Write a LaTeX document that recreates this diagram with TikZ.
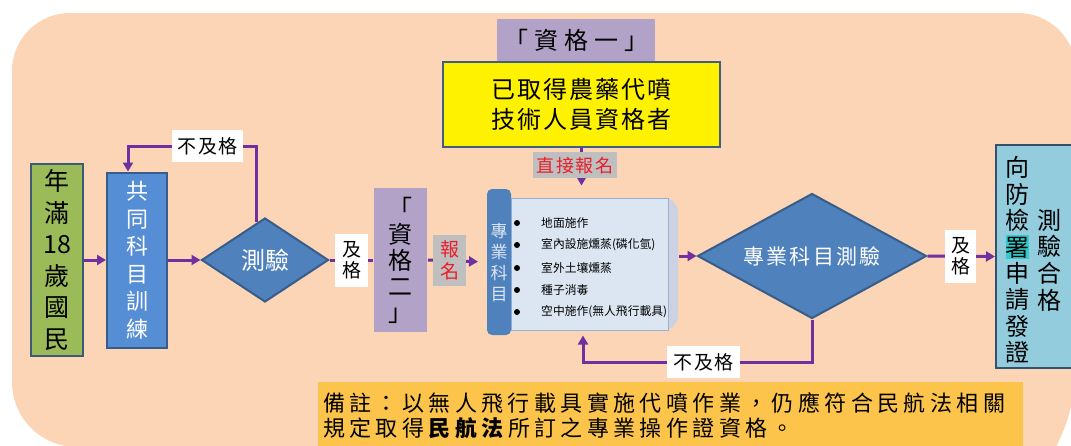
\documentclass[tikz,border=0pt]{standalone}
\usepackage{fontspec}
\setmainfont{Noto Sans CJK TC}
\newfontfamily\lsS[LetterSpace=8]{Noto Sans CJK TC}
\newfontfamily\lsM[LetterSpace=10]{Noto Sans CJK TC}
\newfontfamily\lsL[LetterSpace=20]{Noto Sans CJK TC}
\newfontfamily\lsX[LetterSpace=25]{Noto Sans CJK TC}
\usetikzlibrary{shapes.geometric,arrows.meta,calc}
\definecolor{peach}{RGB}{251,213,181}
\definecolor{apurple}{RGB}{112,48,160}
\definecolor{diablue}{RGB}{79,129,189}
\definecolor{diaedge}{RGB}{56,93,138}
\definecolor{boxblue}{RGB}{85,142,213}
\definecolor{grn}{RGB}{155,187,89}
\definecolor{edgeA}{RGB}{60,90,120}
\definecolor{lavender}{RGB}{179,162,199}
\definecolor{paleblue}{RGB}{220,230,242}
\definecolor{listedge}{RGB}{149,179,215}
\definecolor{shadowc}{RGB}{204,210,226}
\definecolor{cert}{RGB}{147,205,221}
\definecolor{edgeB}{RGB}{52,82,112}
\definecolor{edgeY}{RGB}{65,95,125}
\definecolor{noteor}{RGB}{253,196,76}
\definecolor{lgray}{RGB}{191,191,191}
\definecolor{lred}{RGB}{235,30,40}
\definecolor{hl}{RGB}{51,204,204}
\tikzset{
  flow/.style={draw=apurple, line width=3pt, -{Triangle[length=9pt,width=10pt]}},
  plain/.style={draw=apurple, line width=3pt},
  box/.style={rectangle, inner sep=0pt, line width=2pt, align=center},
  lbl/.style={rectangle, fill=white, inner sep=0pt, align=center},
  glbl/.style={rectangle, fill=lgray, inner sep=0pt, align=center, text=lred},
  dia/.style={diamond, fill=diablue, draw=diaedge, line width=2pt, inner sep=0pt, text=white},
  bul/.style={circle, fill=black, inner sep=0pt, minimum size=6pt},
  item/.style={anchor=west, inner sep=0pt, font=\fontsize{11.8}{12.5}\selectfont},
}
\begin{document}
\begin{tikzpicture}[x=1pt,y=-1pt]
\useasboundingbox (0,0) rectangle (1071,445);
\clip (0,0) rectangle (1071,445);
\fill[peach] (12,71) arc (180:270:58) -- (1018,13) arc (270:360:58) -- (1076,365) arc (0:90:177) -- (77,542) -- (77,447) arc (90:180:65) -- cycle;

% left column
\node[box, fill=grn, draw=edgeA, minimum width=52pt, minimum height=192pt, font=\fontsize{25}{31.5}\selectfont] (age) at (57,260) {年\\滿\\18\\歲\\國\\民};
\node[box, fill=boxblue, draw=diaedge, minimum width=60pt, minimum height=175pt, text=white, font=\fontsize{22}{27.5}\selectfont] (common) at (137,260) {共\\同\\科\\目\\訓\\練};
\node[dia, minimum width=127pt, minimum height=84pt, font=\fontsize{24}{24}\selectfont] (t1) at (265,260) {測驗};

% qualification two
\node[box, fill=lavender, minimum width=53pt, minimum height=144pt, font=\fontsize{24}{26}\selectfont] (q2) at (400.5,260) {「\\資\\格\\二\\」};

% qualification one
\node[box, fill=lavender, minimum width=158pt, minimum height=43pt, font=\lsX\fontsize{24}{24}\selectfont] (q1t) at (576,40.5) {「資格一」};
\node[box, fill=yellow, draw=edgeY, line width=2.5pt, minimum width=277pt, minimum height=85pt, font=\lsS\fontsize{24}{30}\selectfont] (q1) at (581.5,104.5) {已取得農藥代噴\\技術人員資格者};

% subject list
\node[box, fill=shadowc, rounded corners=14pt, minimum width=167pt, minimum height=132pt] (shad) at (594.5,264) {};
\node[box, fill=paleblue, draw=listedge, line width=1pt, minimum width=157pt, minimum height=132pt] (list) at (589.5,264) {};
\node[box, fill=diablue, rounded corners=5pt, minimum width=24pt, minimum height=146pt, text=paleblue, font=\fontsize{17}{21}\selectfont] (subj) at (499,262) {專\\業\\科\\目};
\node[bul] (b1) at (517,223) {};
\node[bul] (b2) at (517,245) {};
\node[bul] (b3) at (517,268) {};
\node[bul] (b4) at (517,290) {};
\node[bul] (b5) at (517,312) {};
\node[item] (i1) at (541,223) {地面施作};
\node[item] (i2) at (541,245) {室內設施燻蒸(磷化氫)};
\node[item] (i3) at (541,268) {室外土壤燻蒸};
\node[item] (i4) at (541,290) {種子消毒};
\node[item] (i5) at (541,312) {空中施作(無人飛行載具)};

% second test
\node[dia, aspect=1.83, minimum width=229pt, minimum height=125pt, font=\lsM\fontsize{21}{21}\selectfont] (t2) at (812,256) {專業科目測驗};

% certificate
\node[box, fill=cert, draw=edgeB, minimum width=76pt, minimum height=223pt] (cert) at (1034,256.5) {};
\node[inner sep=0pt, align=center, font=\fontsize{24}{26.4}\selectfont] (c1) at (1017,260) {向\\防\\檢\\{\fboxsep=0pt\colorbox{hl}{\makebox[23pt]{\rule[-3pt]{0pt}{24pt}署}}}\\申\\請\\發\\證};
\node[inner sep=0pt, align=center, font=\fontsize{24}{26.7}\selectfont] (c2) at (1049,260) {測\\驗\\合\\格};

% note
\node[box, fill=noteor, minimum width=705pt, minimum height=70pt] (note) at (670.5,417) {};
\node[inner sep=0pt, anchor=west, align=left, font=\lsL\fontsize{22}{25}\selectfont] (notetxt) at (323,416) {備註：以無人飛行載具實施代噴作業，仍應符合民航法相關\\規定取得\textbf{民航法}所訂之專業操作證資格。};

% connectors
\coordinate (top1) at (0,146);
\coordinate (bot2) at (0,362);
\coordinate (s1) at ($(t1.north)!0.125!(t1.west)$);
\draw[flow] (age.east) -- (common.west);
\draw[flow] (common.east) -- (t1.west);
\draw[flow] (s1) -- (s1 |- top1) -| node[lbl, pos=0.19, minimum width=71pt, minimum height=32pt, font=\lsS\fontsize{19}{19}\selectfont]{不及格} ([xshift=-9pt]common.north);
\draw[plain] (t1.east) -- node[lbl, pos=0.51, minimum width=33pt, minimum height=53pt, font=\fontsize{19}{21}\selectfont]{及\\格} (q2.west);
\draw[flow, shorten >=8pt] (q2.east) -- node[glbl, pos=0.375, minimum width=33pt, minimum height=51pt, font=\fontsize{19}{22}\selectfont]{報\\名} (subj.west);
\draw[flow, shorten >=12pt] (q1.south) -- node[glbl, pos=0.35, xshift=-6.5pt, minimum width=84pt, minimum height=26pt, font=\lsS\fontsize{18}{18}\selectfont]{直接報名} (q1.south |- list.north);
\draw[flow] (t2.west -| shad.east) -- (t2.west);
\draw[flow] (t2.east) -- node[lbl, pos=0.49, minimum width=31pt, minimum height=53pt, font=\fontsize{19}{21}\selectfont]{及\\格} (cert.west);
\draw[flow, shorten >=5pt] (t2.south) -- (t2.south |- bot2) -| node[lbl, pos=0.236, minimum width=73pt, minimum height=32pt, font=\lsS\fontsize{19}{19}\selectfont]{不及格} ([xshift=-6.5pt]list.south);
\end{tikzpicture}
\end{document}
